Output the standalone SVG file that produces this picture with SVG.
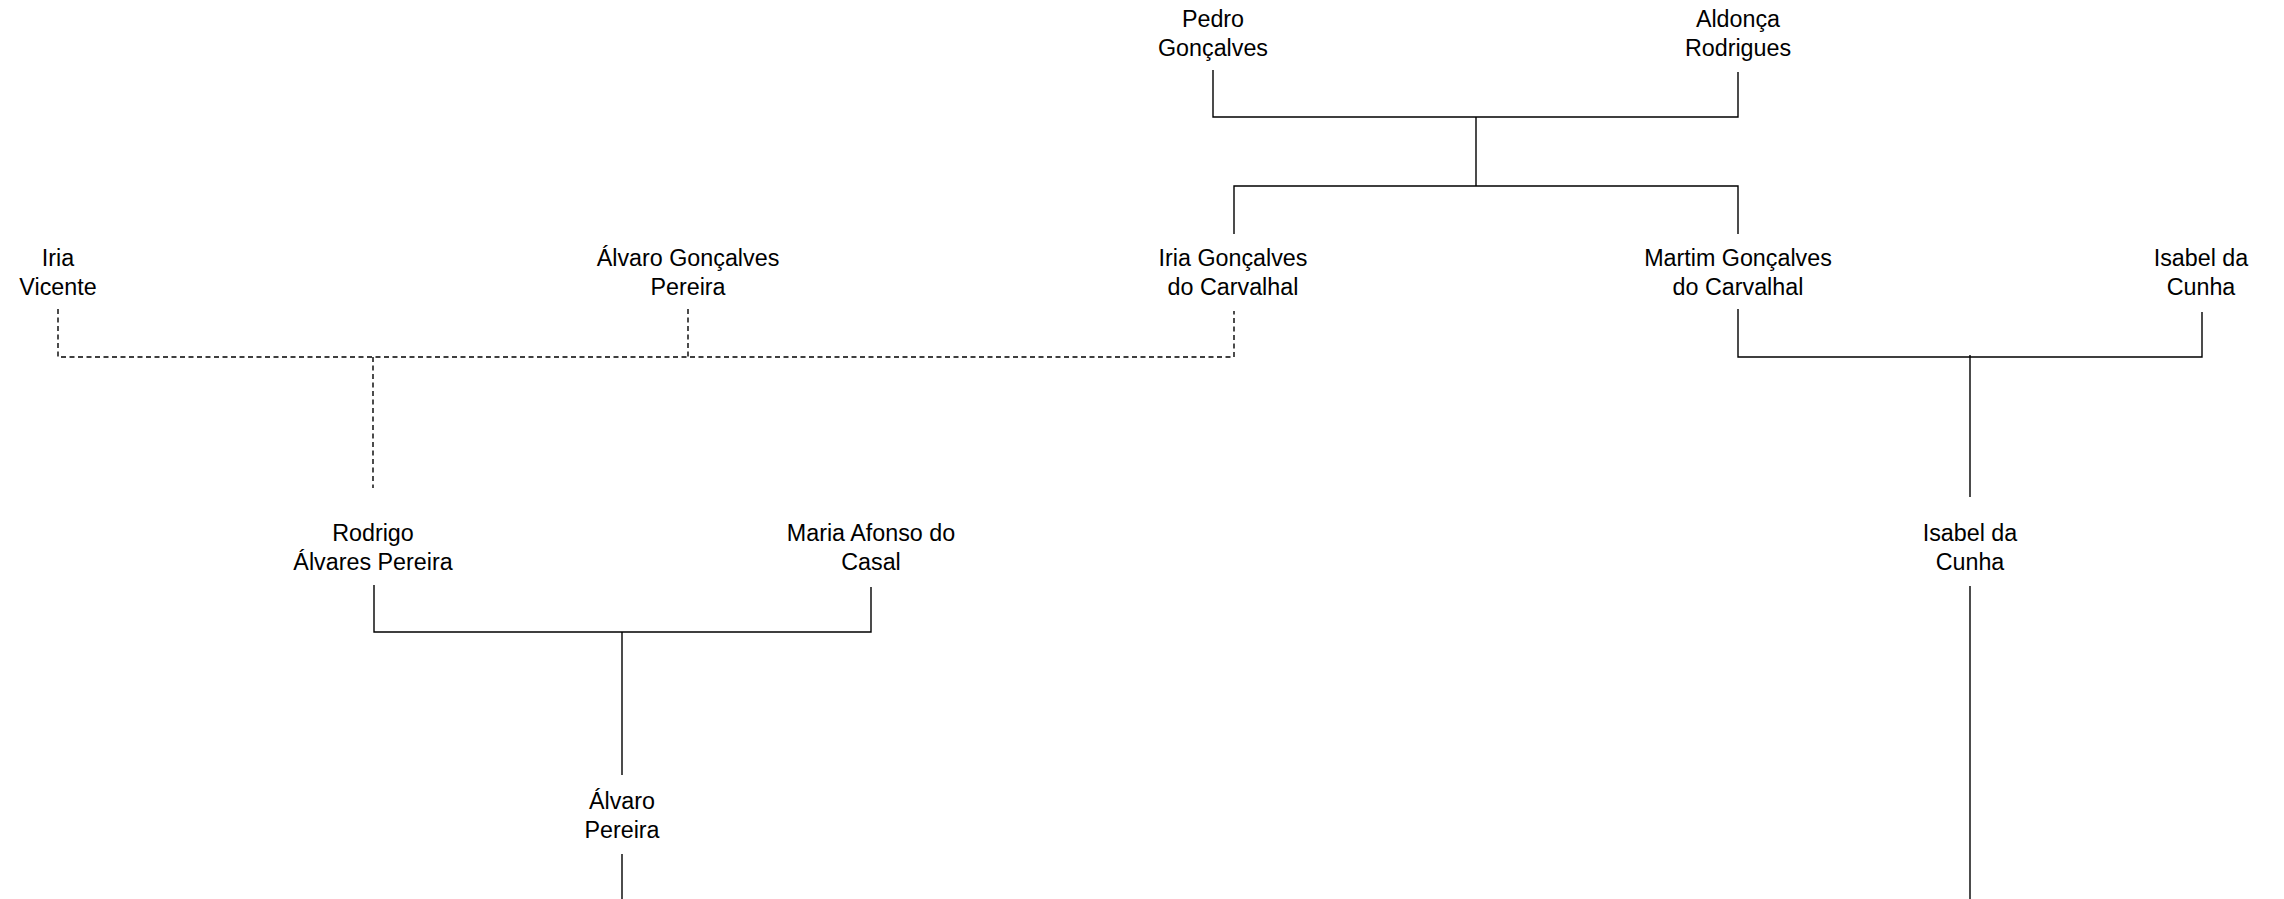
<svg xmlns="http://www.w3.org/2000/svg" width="2284" height="899" viewBox="0 0 2284 899">
<style>
text{font-family:"Liberation Sans",Arial,sans-serif;font-size:23.3px;fill:#000;text-anchor:middle}
.s{fill:none;stroke:#000;stroke-width:1.4}
.d{fill:none;stroke:#000;stroke-width:1.4;stroke-dasharray:5 3.5}
</style>
<rect width="2284" height="899" fill="#fff"/>
<g id="connectors">
<path class="s" d="M1213,70V117H1738V72M1476,117V186M1234,234V186H1738V234"/>
<path class="d" d="M58,309V357H1234V311M688,309V357M373,357V488"/>
<path class="s" d="M1738,309V357H2202V312M1970,355V497"/>
<path class="s" d="M1970,586V899"/>
<path class="s" d="M374,585V632H871V587M622,632V775"/>
<path class="s" d="M622,854V899"/>
</g>
<g id="pedro"><text x="1213" y="27">Pedro</text><text x="1213" y="56">Gonçalves</text></g>
<g id="aldonca"><text x="1738" y="27">Aldonça</text><text x="1738" y="56">Rodrigues</text></g>
<g id="iria-vicente"><text x="58" y="266">Iria</text><text x="58" y="295">Vicente</text></g>
<g id="alvaro-goncalves"><text x="688" y="266">Álvaro Gonçalves</text><text x="688" y="295">Pereira</text></g>
<g id="iria-goncalves"><text x="1233" y="266">Iria Gonçalves</text><text x="1233" y="295">do Carvalhal</text></g>
<g id="martim"><text x="1738" y="266">Martim Gonçalves</text><text x="1738" y="295">do Carvalhal</text></g>
<g id="isabel-1"><text x="2201" y="266">Isabel da</text><text x="2201" y="295">Cunha</text></g>
<g id="rodrigo"><text x="373" y="541">Rodrigo</text><text x="373" y="570">Álvares Pereira</text></g>
<g id="maria"><text x="871" y="541">Maria Afonso do</text><text x="871" y="570">Casal</text></g>
<g id="isabel-2"><text x="1970" y="541">Isabel da</text><text x="1970" y="570">Cunha</text></g>
<g id="alvaro-pereira"><text x="622" y="809">Álvaro</text><text x="622" y="838">Pereira</text></g>
</svg>
